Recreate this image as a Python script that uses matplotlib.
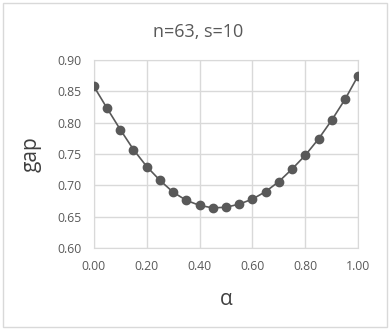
import matplotlib
matplotlib.use("Agg")
import matplotlib.pyplot as plt
from matplotlib.patches import Rectangle

alpha = [0.00, 0.05, 0.10, 0.15, 0.20, 0.25, 0.30, 0.35, 0.40, 0.45, 0.50,
         0.55, 0.60, 0.65, 0.70, 0.75, 0.80, 0.85, 0.90, 0.95, 1.00]
gap = [0.858, 0.823, 0.789, 0.757, 0.730, 0.708, 0.689, 0.676, 0.668, 0.664, 0.665,
       0.670, 0.678, 0.690, 0.706, 0.726, 0.748, 0.774, 0.804, 0.837, 0.875]
xticks = [0.0, 0.2, 0.4, 0.6, 0.8, 1.0]
yticks = [0.60, 0.65, 0.70, 0.75, 0.80, 0.85, 0.90]

plt.rcParams['font.family'] = ['Open Sans', 'DejaVu Sans']
fig = plt.figure(figsize=(3.91, 3.31), dpi=100)
fig.patches.append(Rectangle((0.008, 0.012), 0.982, 0.98, transform=fig.transFigure,
                             fill=False, edgecolor='#d9d9d9', linewidth=1))
ax = fig.add_axes([0.240, 0.2508, 0.676, 0.5679])
ax.plot(alpha, gap, color='#595959', linewidth=1.2, marker='o', markersize=6,
        markerfacecolor='#595959', markeredgecolor='#595959', zorder=3)
ax.set_xlim(0, 1)
ax.set_ylim(0.6, 0.9)
ax.set_xticks(xticks)
ax.set_yticks(yticks)
ax.set_xticklabels([f"{v:.2f}" for v in xticks])
ax.set_yticklabels([f"{v:.2f}" for v in yticks])
ax.grid(True, color='#d9d9d9', linewidth=1)
ax.set_axisbelow(True)
for s in ax.spines.values():
    s.set_color('#d9d9d9')
ax.tick_params(length=0, labelsize=8.8, labelcolor='#595959', pad=9)
ax.set_xlabel('α', fontsize=15, color='#404040', labelpad=11)
ax.set_ylabel('gap', fontsize=15, color='#404040', labelpad=11)
fig.text(0.506, 0.903, 'n=63, s=10', ha='center', va='center', fontsize=13, color='#595959')
fig.savefig('out.png', dpi=100)
